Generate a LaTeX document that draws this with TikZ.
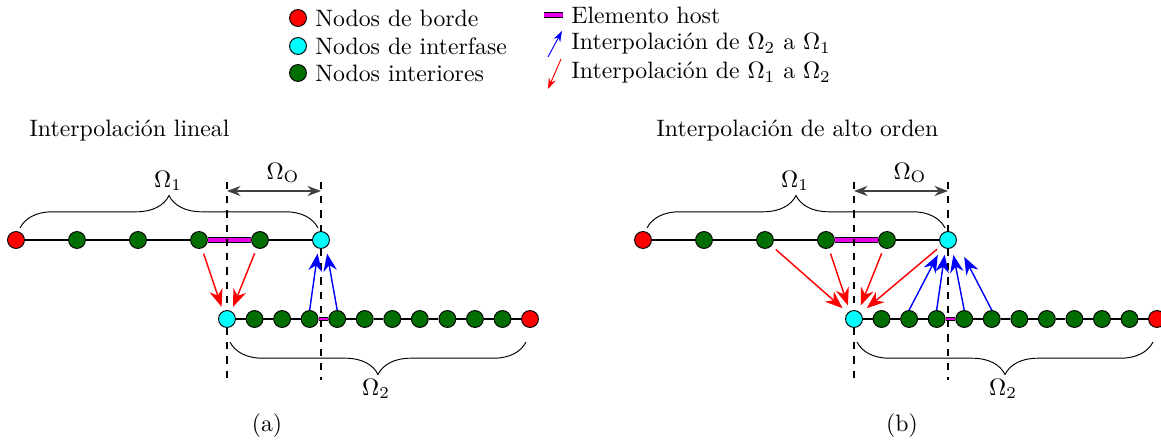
\documentclass[tikz,border=0pt]{standalone}
\usepackage{amsmath,amssymb}
\usepackage{tikz}
\usetikzlibrary{arrows.meta,calc,positioning,decorations.pathreplacing}
\definecolor{cian}{RGB}{0,255,255}
\definecolor{mag}{RGB}{230,0,230}
\definecolor{verde}{RGB}{0,110,0}

\begin{document}
\begin{tikzpicture}[x=0.0148cm,y=-0.0148cm,>=Stealth]
\tikzstyle{nd}=[circle,draw,thin,minimum size=2.5mm,inner sep=0pt]
\tikzstyle{borde}=[nd,fill=red]
\tikzstyle{inter}=[nd,fill=cian]
\tikzstyle{inte}=[nd,fill=verde]
\tikzstyle{host}=[line width=0.4pt,double=mag,double distance=1.4pt]
\tikzstyle{hostb}=[line width=0.4pt,double=mag,double distance=0.8pt]
\tikzstyle{rarr}=[red,semithick,shorten <=0.8mm,-{Stealth[length=2.6mm,width=2mm]}]
\tikzstyle{barr}=[blue,semithick,-{Stealth[length=2.6mm,width=2mm]}]
\tikzstyle{guide}=[dashed,line width=0.8pt]
\tikzstyle{llave}=[decorate,decoration={brace,amplitude=4.8mm}]
\useasboundingbox (0,0) rectangle (1161,445);

% leyenda
\node[borde] (lb) at (298,18) {}; \node[right=0pt of lb] {Nodos de borde};
\node[inter] (li) at (298,46) {}; \node[right=0pt of li] {Nodos de interfase};
\node[inte] (ln) at (298,73) {}; \node[right=0pt of ln] {Nodos interiores};
\node[anchor=west] (lh) at (563,15) {Elemento host};
\coordinate (lh0) at (544,15); \draw[host] (lh0) -- (lh.west);
\node[anchor=west] (l21) at (563,44) {Interpolaci\'on de $\Omega_2$ a $\Omega_1$};
\coordinate (l21a) at (548,57); \coordinate (l21b) at (562,31);
\draw[blue,-{Stealth[length=1.6mm,width=1.1mm]}] (l21a) -- (l21b);
\node[anchor=west] (l12) at (563,73) {Interpolaci\'on de $\Omega_1$ a $\Omega_2$};
\coordinate (l12a) at (561,59); \coordinate (l12b) at (548,89);
\draw[red,-{Stealth[length=1.6mm,width=1.1mm]}] (l12a) -- (l12b);

% titulos
\node[anchor=west] (ta) at (21,131) {Interpolaci\'on lineal};
\node[anchor=west] (tb) at (648,131) {Interpolaci\'on de alto orden};
\node (sa) at (267,426) {(a)};
\node (sb) at (902,426) {(b)};

% dos mallas
\foreach \p/\dx in {a/0,b/627} {
  % malla superior
  \node[borde] (\p-t0) at (16+\dx,240) {};
  \foreach \i in {1,...,4} \node[inte] (\p-t\i) at (16+\dx+61*\i,240) {};
  \node[inter] (\p-t5) at (321+\dx,240) {};
  \foreach \i/\j in {0/1,1/2,2/3,4/5} \draw[thick] (\p-t\i) -- (\p-t\j);
  \draw[host] (\p-t3) -- (\p-t4);
  % malla inferior
  \node[inter] (\p-b0) at (227+\dx,319) {};
  \foreach \i in {1,...,10} \node[inte] (\p-b\i) at (227+\dx+27.55*\i,319) {};
  \node[borde] (\p-b11) at (530+\dx,319) {};
  \foreach \i in {0,1,2,4,5,6,7,8,9,10} {
    \pgfmathtruncatemacro\j{\i+1}
    \draw[thick] (\p-b\i) -- (\p-b\j);
  }
  \draw[hostb] (\p-b3) -- (\p-b4);
  % solapamiento
  \draw[guide] ($(\p-b0)+(0,-137)$) -- (\p-b0.north);
  \draw[guide] (\p-b0.south) -- ($(\p-b0)+(0,61)$);
  \draw[guide] ($(\p-t5)+(0,-58)$) -- (\p-t5.north);
  \draw[guide] (\p-t5.south) -- ($(\p-t5)+(0,140)$);
  \draw[<->,black!75,semithick] ($(\p-b0)+(0,-128)$) -- ($(\p-t5)+(0,-49)$);
  \node (\p-oo) at (283+\dx,173) {$\Omega_{\mathrm{O}}$};
  % llaves
  \draw[llave] ($(\p-t0)+(4,-12)$) -- ($(\p-t5)+(-3,-12)$);
  \node (\p-o1) at (168+\dx,181) {$\Omega_1$};
  \draw[llave] ($(\p-b11)+(-4,23)$) -- ($(\p-b0)+(3,23)$);
  \node (\p-o2) at (376+\dx,389) {$\Omega_2$};
}

% interpolacion lineal
\draw[rarr] (a-t3) -- ([shift={(-0.8mm,1.8mm)}]a-b0.center);
\draw[rarr] (a-t4) -- ([shift={(0.9mm,1.8mm)}]a-b0.center);
\draw[barr] (a-b3.north) -- ([shift={(-0.5mm,-2mm)}]a-t5.center);
\draw[barr] (a-b4.north) -- ([shift={(0.9mm,-2mm)}]a-t5.center);

% interpolacion de alto orden
\draw[rarr] (b-t2) -- ([shift={(-1.7mm,1.6mm)}]b-b0.center);
\draw[rarr] (b-t3) -- ([shift={(-0.9mm,2mm)}]b-b0.center);
\draw[rarr] (b-t4) -- ([shift={(1mm,2mm)}]b-b0.center);
\draw[rarr] (b-t5) -- ([shift={(1.9mm,1.6mm)}]b-b0.center);
\draw[barr] (b-b2.north) -- ([shift={(-1.5mm,-2.2mm)}]b-t5.center);
\draw[barr] (b-b3.north) -- ([shift={(-0.5mm,-2.2mm)}]b-t5.center);
\draw[barr] (b-b4.north) -- ([shift={(0.8mm,-2.2mm)}]b-t5.center);
\draw[barr] (b-b5.north) -- ([shift={(2.4mm,-2.5mm)}]b-t5.center);
\end{tikzpicture}
\end{document}
